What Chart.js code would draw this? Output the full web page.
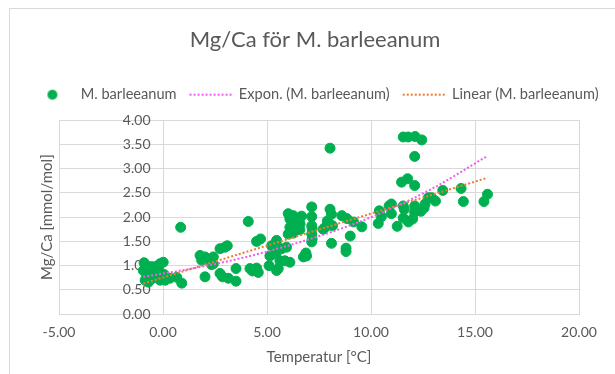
<!DOCTYPE html>
<html><head><meta charset="utf-8">
<script src="https://cdn.jsdelivr.net/npm/chart.js@4"></script>
<style>
html,body{margin:0;padding:0;background:#fff;}
#wrap{position:relative;width:615px;height:374px;overflow:hidden;}
#frame{position:absolute;left:9px;top:8px;width:700px;height:400px;border-left:1px solid #d9d9d9;border-top:1px solid #d9d9d9;}
canvas{position:absolute;left:0;top:0;}
</style></head><body>
<div id="wrap"><div id="frame"></div><canvas id="c" width="615" height="374"></canvas></div>
<script>
// Data
const temperature = [-0.95,-0.91,-0.86,-0.80,-0.78,-0.70,-0.62,-0.55,-0.54,-0.46,-0.38,-0.30,-0.25,-0.22,-0.14,-0.14,0.01,0.05,0.10,0.20,0.33,0.66,0.85,0.90,
  1.78,1.86,2.02,2.02,2.10,2.34,2.42,2.42,2.74,2.74,2.86,2.98,3.09,3.14,3.51,3.51,
  4.10,4.18,4.30,4.42,4.50,4.58,4.50,4.69,5.10,5.14,5.22,5.43,5.46,5.46,5.54,5.62,
  5.70,5.86,5.94,6.02,6.02,6.10,6.10,6.10,6.26,6.26,6.26,6.42,6.58,6.59,6.66,6.75,6.87,6.90,
  7.15,7.15,7.15,7.17,7.15,7.17,7.15,7.70,7.80,7.90,8.00,8.03,8.03,8.10,8.15,8.10,
  8.60,8.80,8.80,8.84,9.00,9.16,9.56,10.35,10.40,10.50,10.87,10.98,10.98,11.26,
  11.47,11.55,11.55,11.55,11.60,11.76,11.79,11.80,12.00,12.10,12.10,12.10,12.10,12.12,
  12.40,12.44,12.55,12.60,12.76,12.92,13.10,13.45,14.33,14.44,15.43,15.60];
const mgCa = [0.90,1.06,0.70,0.95,0.80,0.66,0.87,0.98,0.73,0.94,0.84,0.99,0.78,0.92,1.04,0.70,1.07,0.82,0.70,0.75,0.74,0.76,1.79,0.64,
  1.21,1.11,1.18,0.77,1.15,1.02,1.18,1.04,1.35,0.84,0.77,1.38,1.41,0.74,0.68,0.94,
  1.91,0.94,0.89,0.91,0.95,0.86,1.50,1.55,1.00,1.20,1.41,1.24,1.52,0.90,0.94,1.10,
  1.35,1.10,1.38,2.07,1.65,1.07,1.79,1.96,2.03,1.82,1.67,1.89,1.74,1.86,2.02,1.18,1.26,1.20,
  2.21,2.01,1.82,1.76,1.65,1.55,1.49,1.75,1.79,1.92,1.86,3.42,2.16,2.06,1.82,1.46,
  2.03,1.36,1.29,1.97,1.61,1.90,1.80,1.87,2.13,2.01,2.23,2.27,2.07,1.81,
  2.72,3.65,2.23,1.98,2.16,2.79,3.65,1.90,1.96,3.25,2.65,2.10,2.23,3.66,
  2.12,3.59,2.19,2.27,2.40,2.40,2.33,2.55,2.59,2.32,2.32,2.47];
// Trendlines
const exponX = [-0.95, 1, 3, 5, 7, 9, 11, 13, 15.6];
const exponY = [0.77, 0.91, 1.08, 1.29, 1.54, 1.83, 2.18, 2.60, 3.26];
const linearX = [-0.95, 15.6];
const linearY = [0.63, 2.81];
const seriesNames = ['M. barleeanum', 'Expon. (M. barleeanum)', 'Linear (M. barleeanum)'];
const xTicks = [-5, 0, 5, 10, 15, 20];
const yTicks = [0, 0.5, 1, 1.5, 2, 2.5, 3, 3.5, 4];

const GREEN = '#00B050', MAGENTA = '#F05BF0', ORANGE = '#ED7D31', TXT = '#595959', GRID = '#D9D9D9';
const FONT = 'Lato, "Open Sans", sans-serif';
const pts = (xs, ys) => xs.map((x, i) => ({x, y: ys[i]}));

const dot = document.createElement('canvas');
dot.width = 12; dot.height = 12;
(function(){ const g = dot.getContext('2d'); g.fillStyle = GREEN; g.beginPath(); g.arc(6, 6, 5, 0, Math.PI*2); g.fill(); })();

new Chart(document.getElementById('c'), {
  type: 'scatter',
  data: {
    datasets: [
      { label: seriesNames[0], data: pts(temperature, mgCa), backgroundColor: GREEN, borderColor: GREEN,
        pointRadius: 5, borderWidth: 1, pointHoverRadius: 5, order: 2 },
      { label: seriesNames[1], type: 'line', data: pts(exponX, exponY), borderColor: MAGENTA, backgroundColor: MAGENTA,
        borderWidth: 2, borderDash: [2, 2], pointRadius: 0, cubicInterpolationMode: 'monotone', fill: false, order: 0 },
      { label: seriesNames[2], type: 'line', data: pts(linearX, linearY), borderColor: ORANGE, backgroundColor: ORANGE,
        borderWidth: 2, borderDash: [2, 2], pointRadius: 0, fill: false, order: 1 }
    ]
  },
  options: {
    responsive: false, animation: false, devicePixelRatio: 1,
    layout: { padding: { left: 10, right: -5, top: 0, bottom: 4 } },
    plugins: {
      tooltip: { enabled: false },
      title: { display: true, text: 'Mg/Ca för M. barleeanum', color: TXT,
        font: { family: FONT, size: 22, weight: 'normal', lineHeight: 1.2 }, padding: { top: 27, bottom: 21 } },
      subtitle: { display: true, text: '', weight: 500, font: { size: 1, lineHeight: 1 }, padding: { top: 7, bottom: 0 } },
      legend: {
        position: 'top',
        labels: {
          usePointStyle: true, pointStyleWidth: 42, padding: 13, color: TXT,
          font: { family: FONT, size: 14.6 },
          generateLabels(chart) {
            const items = Chart.defaults.plugins.legend.labels.generateLabels(chart)
              .sort((a, b) => a.datasetIndex - b.datasetIndex);
            items[0].pointStyle = dot;
            [[1, MAGENTA], [2, ORANGE]].forEach(([i, c]) => {
              items[i].pointStyle = 'line';
              items[i].strokeStyle = c;
              items[i].lineWidth = 2;
              items[i].lineDash = [2, 2];
            });
            return items;
          }
        }
      }
    },
    scales: {
      x: {
        type: 'linear', min: xTicks[0], max: xTicks[xTicks.length - 1],
        afterBuildTicks: (s) => { s.ticks = xTicks.map(v => ({value: v})); },
        ticks: { color: TXT, font: { family: FONT, size: 14 }, padding: 10, callback: v => v.toFixed(2) },
        grid: { color: GRID, drawTicks: false },
        border: { color: GRID },
        title: { display: true, text: 'Temperatur [°C]', color: TXT, font: { family: FONT, size: 15 }, padding: { top: -3, bottom: 4 } }
      },
      y: {
        type: 'linear', position: 'left', min: 0, max: 4,
        afterBuildTicks: (s) => { s.ticks = yTicks.map(v => ({value: v})); },
        ticks: { display: false },
        grid: { color: GRID, drawTicks: false },
        border: { display: false },
        title: { display: true, text: 'Mg/Ca [mmol/mol]', color: TXT, font: { family: FONT, size: 15 }, padding: { top: 28, bottom: 3 } }
      },
      y2: {
        type: 'linear', axis: 'y', position: { x: -0.6 }, min: 0, max: 4,
        afterBuildTicks: (s) => { s.ticks = yTicks.map(v => ({value: v})); },
        ticks: { color: TXT, font: { family: FONT, size: 14 }, callback: v => v.toFixed(2) },
        grid: { display: false, drawTicks: false },
        border: { display: false }
      },
      yR: {
        type: 'linear', axis: 'y', position: 'right', min: 0, max: 4,
        ticks: { display: false }, grid: { display: false, drawTicks: false }, border: { display: false },
        title: { display: true, text: '', font: { size: 1, lineHeight: 1 }, padding: { top: 0, bottom: 40 } }
      }
    }
  }
});
</script>
</body></html>
